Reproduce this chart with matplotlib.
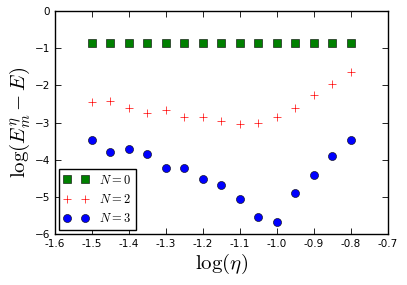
import numpy as np
import matplotlib
matplotlib.use('Agg')
import matplotlib.pyplot as plt

plt.rcParams['mathtext.fontset'] = 'cm'
plt.rcParams['xtick.direction'] = 'in'
plt.rcParams['ytick.direction'] = 'in'
plt.rcParams['xtick.top'] = True
plt.rcParams['ytick.right'] = True

log_eta = [-1.5, -1.45, -1.4, -1.35, -1.3, -1.25, -1.2, -1.15, -1.1, -1.05, -1.0, -0.95, -0.9, -0.85, -0.8]
err_n0 = [-0.85] * 15
err_n2 = [-2.46, -2.43, -2.61, -2.73, -2.67, -2.84, -2.84, -2.96, -3.05, -3.00, -2.84, -2.61, -2.27, -1.95, -1.65]
err_n3 = [-3.46, -3.78, -3.72, -3.86, -4.23, -4.23, -4.53, -4.68, -5.07, -5.53, -5.68, -4.91, -4.42, -3.89, -3.48]

fig = plt.figure(figsize=(4.07, 2.85), dpi=100)
ax = fig.add_axes([0.135, 0.179, 0.818, 0.782])

ax.plot(log_eta, err_n0, 's', color=(0, 0.5, 0), markeredgecolor='k', markeredgewidth=0.4, markersize=5.2, label='$N=0$')
ax.plot(log_eta, err_n2, '+', color='r', markersize=6, markeredgewidth=0.5, label='$N=2$')
ax.plot(log_eta, err_n3, 'o', color='b', markeredgecolor='k', markeredgewidth=0.4, markersize=5.8, label='$N=3$')

ax.set_xlim(-1.6, -0.7)
ax.set_ylim(-6, 0)
ax.set_xticks(np.arange(-1.6, -0.69, 0.1))
ax.set_xticklabels(['%.1f' % v for v in np.arange(-1.6, -0.69, 0.1)])
ax.tick_params(labelsize=7.5, length=4, width=0.6)
for s in ax.spines.values():
    s.set_linewidth(1.0)

ax.set_xlabel(r'$\log(\eta)$', fontsize=15, labelpad=2)
ax.set_ylabel(r'$\log(E_m^\eta - E)$', fontsize=15, labelpad=2)

leg = ax.legend(loc='lower left', numpoints=2, fontsize=9, fancybox=False, framealpha=1,
                edgecolor='k', borderaxespad=0.3, handlelength=2.0, labelspacing=0.5)
leg.get_frame().set_linewidth(1.0)

fig.savefig('out.png', dpi=100)
